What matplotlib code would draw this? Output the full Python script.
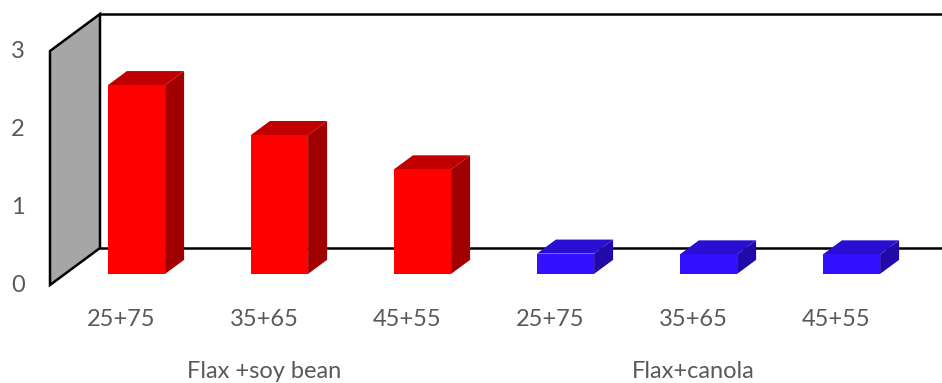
import numpy as np
import matplotlib
matplotlib.use("Agg")
import matplotlib.pyplot as plt
from matplotlib.patches import Polygon

plt.rcParams['font.family'] = ['Lato', 'DejaVu Sans']

# data
mixes = ["25+75", "35+65", "45+55", "25+75", "35+65", "45+55"]
groups = ["Flax +soy bean", "Flax+canola"]
soy_values = [2.42, 1.78, 1.34]
canola_values = [0.26, 0.25, 0.25]
y_ticks = [0, 1, 2, 3]

# colours for front / top / side faces
soy_faces = ["#ff0000", "#c00000", "#a00000"]
canola_faces = ["#3311ff", "#2a0ed2", "#2209aa"]

# oblique depth offset of the full floor (in data units)
DX = 50 / 143
DY = 37 / 78
BAR_W = 0.4
BAR_D0 = 0.30   # where the bar front sits in depth
BAR_DD = 0.38   # bar depth
FS = 17
TXT = "#595959"

fig = plt.figure(figsize=(9.42, 3.83), dpi=100)
ax = fig.add_axes([0, 0, 1, 1])
ax.set_xlim(-50 / 143, (942 - 50) / 143)
ax.set_ylim((285 - 383) / 78, 285 / 78)
ax.axis("off")

ymax = y_ticks[-1]
# left wall
wall = Polygon([(0, 0), (0, ymax), (DX, ymax + DY), (DX, DY)], closed=True,
               facecolor="#a6a6a6", edgecolor="black", lw=1.8, zorder=1)
ax.add_patch(wall)
# back wall top and floor back edge
ax.plot([DX, 7], [ymax + DY, ymax + DY], color="black", lw=1.8, zorder=1)
ax.plot([DX, 7], [DY, DY], color="black", lw=1.8, zorder=1)

for t in y_ticks:
    ax.text(-0.225, t, str(t), ha="center", va="center", fontsize=FS, color=TXT)


def draw_bar(xc, v, faces):
    b = BAR_D0 * DY
    xl = xc + BAR_D0 * DX - BAR_W / 2
    xr = xl + BAR_W
    ddx, ddy = BAR_DD * DX, BAR_DD * DY
    side = Polygon([(xr, b), (xr, b + v), (xr + ddx, b + v + ddy), (xr + ddx, b + ddy)],
                   closed=True, facecolor=faces[2], edgecolor="none", zorder=3)
    top = Polygon([(xl, b + v), (xr, b + v), (xr + ddx, b + v + ddy), (xl + ddx, b + v + ddy)],
                  closed=True, facecolor=faces[1], edgecolor="none", zorder=3)
    ax.add_patch(side)
    ax.add_patch(top)
    ax.bar(xl, v, bottom=b, width=BAR_W, align="edge", color=faces[0], zorder=4)


centers = np.arange(len(mixes)) + 0.5
for xc, v in zip(centers[:3], soy_values):
    draw_bar(xc, v, soy_faces)
for xc, v in zip(centers[3:], canola_values):
    draw_bar(xc, v, canola_faces)

for xc, lab in zip(centers, mixes):
    ax.text(xc, (285 - 319) / 78, lab, ha="center", va="center", fontsize=FS, color=TXT)
for gi, g in enumerate(groups):
    ax.text(centers[gi * 3 + 1], (285 - 372) / 78, g, ha="center", va="center",
            fontsize=FS, color=TXT)

fig.savefig("out.png", dpi=100)
